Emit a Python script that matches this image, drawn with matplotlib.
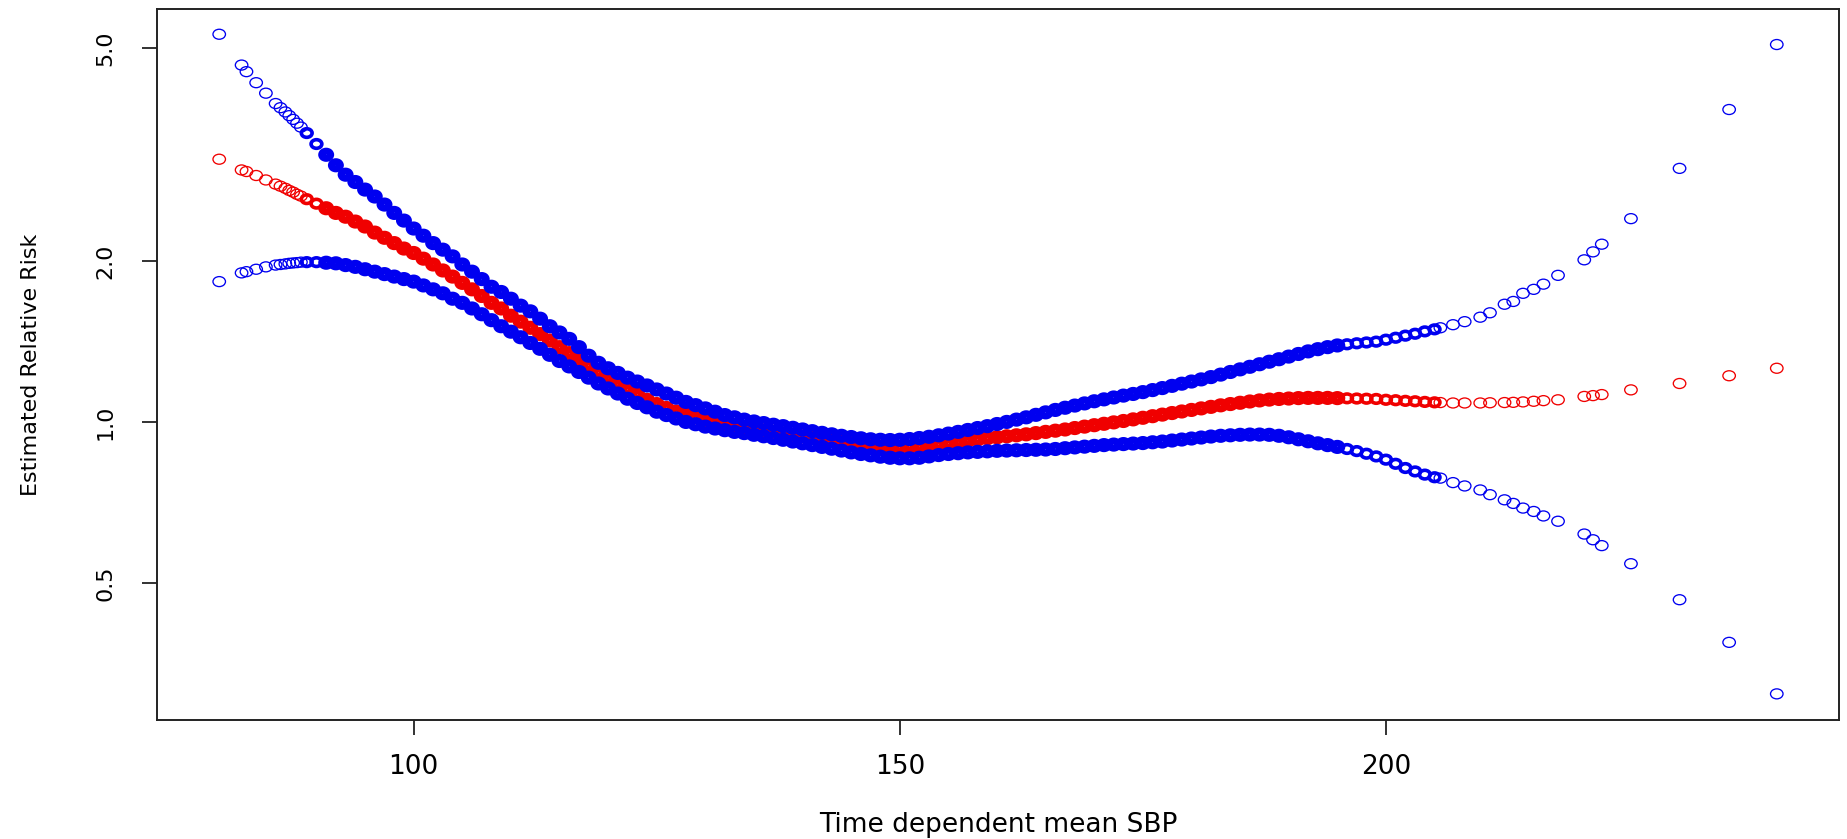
import numpy as np
import matplotlib.pyplot as plt
from matplotlib.path import Path
from matplotlib.transforms import Affine2D
from matplotlib.ticker import NullLocator

# time dependent mean SBP (one value per plotted observation)
sbp = [80.0, 82.3, 82.8, 83.8, 84.8, 85.8, 86.3, 86.8, 87.2, 87.6, 88.0, 88.4,
       89, 90, 91, 92, 93, 94, 95, 96, 97, 98,
       99, 100, 101, 102, 103, 104, 105, 106, 107, 108,
       109, 110, 111, 112, 113, 114, 115, 116, 117, 118,
       119, 120, 121, 122, 123, 124, 125, 126, 127, 128,
       129, 130, 131, 132, 133, 134, 135, 136, 137, 138,
       139, 140, 141, 142, 143, 144, 145, 146, 147, 148,
       149, 150, 151, 152, 153, 154, 155, 156, 157, 158,
       159, 160, 161, 162, 163, 164, 165, 166, 167, 168,
       169, 170, 171, 172, 173, 174, 175, 176, 177, 178,
       179, 180, 181, 182, 183, 184, 185, 186, 187, 188,
       189, 190, 191, 192, 193, 194, 195, 196, 197, 198,
       199, 200, 201, 202, 203, 204, 205,
       205.6, 206.9, 208.1, 209.7, 210.7, 212.2, 213.1, 214.1, 215.2, 216.2,
       217.7, 220.4, 221.3, 222.2, 225.2, 230.2, 235.3, 240.2]

# upper 95% limit
rr_upper = [5.31, 4.65, 4.52, 4.31, 4.12, 3.94, 3.87, 3.80, 3.74, 3.68, 3.62, 3.56,
            3.47, 3.31, 3.16, 3.02, 2.90, 2.81, 2.72, 2.64, 2.55, 2.46,
            2.38, 2.30, 2.23, 2.16, 2.10, 2.04, 1.97, 1.91, 1.85, 1.79,
            1.75, 1.70, 1.65, 1.61, 1.56, 1.51, 1.47, 1.43, 1.38, 1.33,
            1.29, 1.26, 1.235, 1.21, 1.19, 1.17, 1.15, 1.13, 1.11, 1.09,
            1.075, 1.06, 1.045, 1.03, 1.02, 1.01, 1.002, 0.995, 0.988, 0.982,
            0.975, 0.968, 0.961, 0.954, 0.948, 0.942, 0.937, 0.932, 0.928, 0.926,
            0.925, 0.926, 0.929, 0.933, 0.938, 0.944, 0.951, 0.958, 0.966, 0.974,
            0.982, 0.991, 1.000, 1.010, 1.020, 1.031, 1.042, 1.053, 1.063, 1.073,
            1.083, 1.093, 1.102, 1.111, 1.120, 1.128, 1.137, 1.147, 1.157, 1.168,
            1.179, 1.190, 1.201, 1.213, 1.226, 1.240, 1.254, 1.268, 1.282, 1.296,
            1.310, 1.325, 1.340, 1.355, 1.368, 1.380, 1.390, 1.397, 1.403, 1.408,
            1.413, 1.425, 1.437, 1.450, 1.462, 1.477, 1.490,
            1.50, 1.52, 1.54, 1.57, 1.60, 1.66, 1.68, 1.74, 1.77, 1.81,
            1.88, 2.01, 2.08, 2.15, 2.40, 2.98, 3.84, 5.08]

# estimated relative risk
rr_est = [3.10, 2.96, 2.94, 2.89, 2.835, 2.785, 2.76, 2.735, 2.71, 2.69, 2.665, 2.645,
          2.61, 2.56, 2.51, 2.46, 2.42, 2.37, 2.32, 2.26, 2.21, 2.16,
          2.11, 2.07, 2.02, 1.97, 1.92, 1.87, 1.82, 1.77, 1.72, 1.67,
          1.63, 1.58, 1.54, 1.50, 1.46, 1.42, 1.38, 1.345, 1.31, 1.275,
          1.235, 1.205, 1.175, 1.15, 1.125, 1.10, 1.08, 1.062, 1.046, 1.032,
          1.02, 1.008, 0.998, 0.99, 0.983, 0.977, 0.97, 0.964, 0.958, 0.952,
          0.946, 0.94, 0.934, 0.928, 0.922, 0.917, 0.912, 0.907, 0.903, 0.90,
          0.898, 0.897, 0.898, 0.90, 0.903, 0.907, 0.912, 0.917, 0.922, 0.927,
          0.932, 0.936, 0.94, 0.944, 0.948, 0.953, 0.958, 0.963, 0.968, 0.974,
          0.98, 0.986, 0.992, 0.998, 1.004, 1.011, 1.018, 1.025, 1.032, 1.039,
          1.046, 1.053, 1.06, 1.067, 1.074, 1.08, 1.086, 1.092, 1.097, 1.101,
          1.104, 1.106, 1.108, 1.109, 1.109, 1.109, 1.108, 1.107, 1.106, 1.105,
          1.104, 1.10, 1.098, 1.095, 1.093, 1.09, 1.088,
          1.087, 1.085, 1.085, 1.085, 1.086, 1.087, 1.088, 1.09, 1.093, 1.096,
          1.10, 1.116, 1.12, 1.125, 1.148, 1.18, 1.22, 1.26]

# lower 95% limit
rr_lower = [1.83, 1.90, 1.91, 1.93, 1.95, 1.965, 1.97, 1.975, 1.98, 1.983, 1.986, 1.99,
            1.99, 1.99, 1.985, 1.98, 1.965, 1.95, 1.93, 1.91, 1.89, 1.87,
            1.85, 1.83, 1.80, 1.77, 1.74, 1.70, 1.67, 1.63, 1.59, 1.55,
            1.51, 1.475, 1.44, 1.405, 1.37, 1.335, 1.30, 1.27, 1.24, 1.21,
            1.18, 1.155, 1.13, 1.105, 1.085, 1.065, 1.045, 1.03, 1.015, 1.0,
            0.99, 0.98, 0.972, 0.965, 0.958, 0.953, 0.946, 0.94, 0.933, 0.926,
            0.919, 0.912, 0.905, 0.898, 0.891, 0.884, 0.877, 0.871, 0.866, 0.861,
            0.857, 0.855, 0.855, 0.857, 0.862, 0.867, 0.871, 0.874, 0.877, 0.879,
            0.881, 0.883, 0.884, 0.885, 0.886, 0.887, 0.888, 0.89, 0.893, 0.896,
            0.899, 0.902, 0.905, 0.907, 0.909, 0.911, 0.913, 0.916, 0.919, 0.923,
            0.927, 0.931, 0.935, 0.939, 0.942, 0.944, 0.946, 0.947, 0.947, 0.946,
            0.942, 0.936, 0.928, 0.92, 0.912, 0.905, 0.898, 0.89, 0.882, 0.872,
            0.862, 0.85, 0.835, 0.82, 0.808, 0.797, 0.788,
            0.785, 0.77, 0.759, 0.746, 0.731, 0.715, 0.704, 0.69, 0.68, 0.667,
            0.652, 0.617, 0.602, 0.587, 0.543, 0.465, 0.387, 0.31]

y_ticks = [0.5, 1.0, 2.0, 5.0]
y_ticklabels = ['0.5', '1.0', '2.0', '5.0']
x_ticks = [100, 150, 200]

plt.rcParams['font.family'] = ['DejaVu Sans']

# the original image is stretched sideways, so the circles are slightly wide
ring = Path.unit_circle().transformed(Affine2D().scale(1.25, 1.0))

x = np.array(sbp)
# where the observations pile up the rings merge into a solid band;
# mimic that with smaller rings drawn with heavy outlines
size = np.full(x.shape, 81.0)
lw = np.full(x.shape, 0.95)
semi = ((x > 88.5) & (x < 90.5)) | ((x > 195.5) & (x < 205.5))
core = (x >= 90.5) & (x <= 195.5)
size[semi] = 60.0
lw[semi] = 2.6
size[core] = 42.0
lw[core] = 5.0

W, H = 1847, 839
fig = plt.figure(figsize=(W / 100, H / 100), dpi=100)
ax = fig.add_axes([157 / W, 1 - 720 / H, (1839 - 157) / W, (720 - 9) / H])

for vals, col in [(rr_est, '#f00000'), (rr_upper, '#0000f0'), (rr_lower, '#0000f0')]:
    ax.scatter(x, vals, s=size, marker=ring, facecolors='none', edgecolors=col,
               linewidths=lw)

ax.set_yscale('log')
ax.set_xlim(73.6, 246.6)
ax.set_ylim(0.277, 5.92)
ax.set_xticks(x_ticks)
ax.set_yticks(y_ticks)
ax.set_yticklabels(y_ticklabels, rotation=90, va='center', fontsize=16)
ax.yaxis.set_minor_locator(NullLocator())
ax.xaxis.set_minor_locator(NullLocator())
ax.tick_params(axis='both', direction='out', length=10.8, width=1.3, color='#222222')
ax.tick_params(axis='x', labelsize=19, pad=14)
ax.tick_params(axis='y', pad=19)
for s in ax.spines.values():
    s.set_linewidth(1.4)
    s.set_color('#222222')

ax.set_xlabel('Time dependent mean SBP', fontsize=19, va='center')
ax.xaxis.set_label_coords(0.5, (720 - 825) / 711)
ax.set_ylabel('Estimated Relative Risk', fontsize=16, va='center')
ax.yaxis.set_label_coords((31 - 157) / 1682, 0.5)

fig.savefig('out.png', dpi=100)
